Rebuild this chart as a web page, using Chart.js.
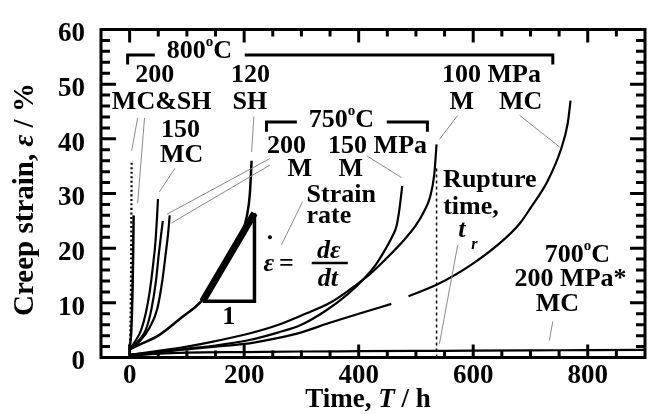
<!DOCTYPE html>
<html>
<head>
<meta charset="utf-8">
<script src="https://cdn.jsdelivr.net/npm/chart.js@4.4.1/dist/chart.umd.min.js"></script>
<style>
  html, body { margin: 0; padding: 0; background: #fff; }
</style>
</head>
<body>
<canvas id="creepChart" width="651" height="414"></canvas>
<script>
// tick labels
const xTickValues = [0, 200, 400, 600, 800];
const yTickValues = [0, 10, 20, 30, 40, 50, 60];

// 800 C, 200 MPa (MC & SH) - two specimens
const t800_200a = [0, 0.5, 1, 1.5, 2, 2.5, 3, 3.5];
const e800_200a = [1.5, 2.5, 4, 6, 10, 16, 25, 36];
const t800_200b = [0, 1, 2, 3, 4, 5, 6, 7];
const e800_200b = [1.5, 2.5, 3.5, 5, 8, 12, 18, 26];

// 800 C, 150 MPa MC
const t800_150 = [0, 10, 20, 28, 35, 41, 45, 48, 49.5];
const e800_150 = [1.5, 3, 5, 8, 12, 17, 21, 26, 29];

// 750 C, 200 MPa M - two specimens
const t750_200a = [0, 15, 28, 38, 46, 51, 55, 58];
const e750_200a = [1.5, 3, 5, 8.8, 14, 19, 22.5, 25];
const t750_200b = [0, 18, 35, 48, 57, 63, 67, 70];
const e750_200b = [1.5, 3, 5.5, 8.8, 14, 19, 22.5, 26];

// 800 C, 120 MPa SH
const t800_120 = [0, 20, 50, 87, 127, 150, 175, 195, 205, 210, 213];
const e800_120 = [1.5, 2.5, 4, 7, 10.5, 14, 18.5, 22.5, 26, 30, 36];

// 750 C, 150 MPa M
const t750_150 = [0, 50, 100, 150, 209, 260, 300, 343, 380, 410, 430, 445, 458, 466, 471, 474, 476];
const e750_150 = [0.5, 1, 1.6, 2.2, 3.2, 4.6, 6, 8.6, 11.5, 14.5, 17, 19.5, 22, 24, 27, 29.5, 31.4];

// 800 C, 100 MPa M
const t800_100M = [0, 50, 100, 150, 209, 260, 300, 350, 383, 420, 450, 480, 500, 515, 525, 532, 536];
const e800_100M = [0.5, 1.2, 2, 3, 4.4, 6, 7.7, 10, 12.3, 15.3, 18.3, 21.6, 24.2, 26.9, 29.5, 33.5, 39];

// 800 C, 100 MPa MC (record has a gap)
const t800_100MCa = [0, 50, 100, 150, 209, 260, 300, 348, 400, 457];
const e800_100MCa = [0.5, 1, 1.5, 2, 2.6, 3.6, 4.6, 6.3, 8, 9.8];
const t800_100MCb = [487, 534, 597, 656, 682, 701, 730, 753, 765, 770];
const e800_100MCb = [11.2, 13.2, 17, 21.8, 24.6, 27.5, 32.3, 38, 42.8, 47];

// 700 C, 200 MPa* MC
const t700_200 = [0, 50, 100, 200, 300, 400, 500, 600, 700, 800, 900];
const e700_200 = [0.3, 0.7, 0.9, 1.0, 1.1, 1.15, 1.2, 1.25, 1.3, 1.35, 1.4];

// rupture time marker of the 100 MPa M test
const tRupture = [536, 536];
const eRupture = [0, 34.6];

// strain-rate triangle
const tTriangle = [127.5, 218, 218];
const eTriangle = [10.3, 10.3, 26.4];
const tHypot = [127.5, 218];
const eHypot = [10.3, 26.4];

const fam = '"Liberation Serif", "Times New Roman", serif';
const B26 = `bold 26px ${fam}`;
const BI26 = `bold italic 26px ${fam}`;
const SUP = `bold 15px ${fam}`;
const SUB = `bold italic 16px ${fam}`;

function pts(ts, es) {
  return ts.map((t, i) => ({ x: t, y: es[i] }));
}

function curve(ts, es, extra) {
  return Object.assign({
    data: pts(ts, es),
    showLine: true,
    borderColor: "#000",
    borderWidth: 2.2,
    pointRadius: 0,
    cubicInterpolationMode: "monotone",
    fill: false
  }, extra || {});
}

// annotations (data coordinates: time h, strain %)
const labels = [
  { t: 122, e: 56.0, runs: [["800", B26], ["o", SUP, -9], ["C", B26]] },
  { t: 44, e: 51.7, runs: [["200", B26]] },
  { t: 56, e: 46.6, runs: [["MC&SH", B26]] },
  { t: 211, e: 51.7, runs: [["120", B26]] },
  { t: 210, e: 46.6, runs: [["SH", B26]] },
  { t: 89, e: 41.5, runs: [["150", B26]] },
  { t: 91, e: 36.9, runs: [["MC", B26]] },
  { t: 370, e: 43.4, runs: [["750", B26], ["o", SUP, -9], ["C", B26]] },
  { t: 274, e: 38.7, runs: [["200", B26]] },
  { t: 433, e: 38.7, runs: [["150 MPa", B26]] },
  { t: 297, e: 34.5, runs: [["M", B26]] },
  { t: 386, e: 34.5, runs: [["M", B26]] },
  { t: 309, e: 29.7, align: "left", runs: [["Strain", B26]] },
  { t: 309, e: 25.9, align: "left", runs: [["rate", B26]] },
  { t: 173, e: 7.3, runs: [["1", B26]] },
  { t: 629, e: 32.4, runs: [["Rupture", B26]] },
  { t: 596, e: 27.5, runs: [["time,", B26]] },
  { t: 580, e: 23.2, runs: [["t", BI26]] },
  { t: 602, e: 20.6, runs: [["r", SUB]] },
  { t: 632, e: 51.7, runs: [["100 MPa", B26]] },
  { t: 580, e: 46.7, runs: [["M", B26]] },
  { t: 683, e: 46.7, runs: [["MC", B26]] },
  { t: 782, e: 18.7, runs: [["700", B26], ["o", SUP, -9], ["C", B26]] },
  { t: 770, e: 14.3, runs: [["200 MPa*", B26]] },
  { t: 747, e: 9.7, runs: [["MC", B26]] }
];

const leaders = [
  [14, 43.8, 3.5, 37.8],
  [26, 43.8, 14, 28.2],
  [79, 34.6, 52, 30.3],
  [217, 44.1, 213, 37.6],
  [245, 36.4, 65, 26.2],
  [245, 35.2, 73, 24.6],
  [414, 36.9, 475, 32.9],
  [302, 28.5, 265, 20.6],
  [573, 44.3, 541, 39.9],
  [681, 44.3, 751, 38.5],
  [573, 20.6, 541, 2.5],
  [739, 6.6, 733, 3.1]
];

const brackets = [
  [[-3.5, 53.6], [-3.5, 55.35], [44, 55.35]],
  [[201, 55.35], [739, 55.35], [739, 53.6]],
  [[239, 41.3], [239, 43.1], [292, 43.1]],
  [[449, 43.1], [520, 43.1], [520, 41.3]]
];

function drawRuns(ctx, runs, x, y, align, baseline) {
  let w = 0;
  runs.forEach(r => { ctx.font = r[1]; w += ctx.measureText(r[0]).width; });
  let cx = align === "left" ? x : align === "right" ? x - w : x - w / 2;
  ctx.textAlign = "left";
  ctx.textBaseline = baseline || "middle";
  runs.forEach(r => {
    ctx.font = r[1];
    ctx.fillText(r[0], cx, y + (r[2] || 0));
    cx += ctx.measureText(r[0]).width;
  });
}

const decorPlugin = {
  id: "decor",
  afterDatasetsDraw(chart) {
    const ctx = chart.ctx;
    const X = v => chart.scales.x.getPixelForValue(v);
    const Y = v => chart.scales.y.getPixelForValue(v);
    ctx.save();
    ctx.strokeStyle = "#8a8a8a";
    ctx.lineWidth = 1;
    leaders.forEach(l => {
      ctx.beginPath();
      ctx.moveTo(X(l[0]), Y(l[1]));
      ctx.lineTo(X(l[2]), Y(l[3]));
      ctx.stroke();
    });
    ctx.strokeStyle = "#000";
    ctx.lineWidth = 3;
    brackets.forEach(b => {
      ctx.beginPath();
      b.forEach((p, i) => i ? ctx.lineTo(X(p[0]), Y(p[1])) : ctx.moveTo(X(p[0]), Y(p[1])));
      ctx.stroke();
    });
    ctx.fillStyle = "#000";
    labels.forEach(l => drawRuns(ctx, l.runs, X(l.t), Y(l.e), l.align || "center"));

    // strain rate formula
    drawRuns(ctx, [["ε", BI26]], X(243), Y(15.9), "center", "alphabetic");
    ctx.beginPath();
    ctx.arc(X(245), Y(22), 2, 0, Math.PI * 2);
    ctx.fill();
    drawRuns(ctx, [["=", B26]], X(274), Y(15.9), "center", "alphabetic");
    drawRuns(ctx, [["dε", BI26]], X(348), Y(18.2), "center", "alphabetic");
    drawRuns(ctx, [["dt", BI26]], X(346), Y(13.1), "center", "alphabetic");
    ctx.lineWidth = 2.5;
    ctx.beginPath();
    ctx.moveTo(X(318), Y(17.3));
    ctx.lineTo(X(381), Y(17.3));
    ctx.stroke();
    ctx.restore();
  },
  afterDraw(chart) {
    const ctx = chart.ctx;
    const a = chart.chartArea;
    const xs = chart.scales.x, ys = chart.scales.y;
    ctx.save();
    ctx.strokeStyle = "#000";
    ctx.lineWidth = 3;
    // inward ticks on all four sides
    ctx.beginPath();
    for (let v = 0; v <= 850; v += 50) {
      const px = xs.getPixelForValue(v);
      const len = v % 200 === 0 ? 13 : 7;
      ctx.moveTo(px, a.bottom); ctx.lineTo(px, a.bottom - len);
      ctx.moveTo(px, a.top); ctx.lineTo(px, a.top + len);
    }
    for (let v = 2; v < 60; v += 2) {
      const py = ys.getPixelForValue(v);
      const len = v % 10 === 0 ? 15 : 9;
      ctx.moveTo(a.left, py); ctx.lineTo(a.left + len, py);
      ctx.moveTo(a.right, py); ctx.lineTo(a.right - len, py);
    }
    ctx.stroke();
    ctx.strokeRect(a.left, a.top, a.right - a.left, a.bottom - a.top);

    // axis titles
    ctx.fillStyle = "#000";
    const B27 = `bold 27px ${fam}`, BI27 = `bold italic 27px ${fam}`;
    drawRuns(ctx, [["Time, ", B27], ["T", BI27], [" / h", B27]], (a.left + a.right) / 2 - 5, 400, "center");
    const B29 = `bold 29px ${fam}`, BI29 = `bold italic 29px ${fam}`;
    ctx.translate(26, (a.top + a.bottom) / 2 + 6);
    ctx.rotate(-Math.PI / 2);
    drawRuns(ctx, [["Creep strain, ", B29], ["ε", BI29], [" / %", B29]], 0, 0, "center");
    ctx.restore();
  }
};

const tickFont = { family: fam, size: 27, weight: "bold", lineHeight: 1 };

new Chart(document.getElementById("creepChart"), {
  type: "scatter",
  data: {
    datasets: [
      curve(t800_200a, e800_200a, { borderDash: [2, 2.5] }),
      curve(t800_200b, e800_200b, { borderWidth: 2.5 }),
      curve(t800_150, e800_150),
      curve(t750_200a, e750_200a),
      curve(t750_200b, e750_200b),
      curve(t800_120, e800_120, { borderWidth: 2.5 }),
      curve(t750_150, e750_150),
      curve(t800_100M, e800_100M),
      curve(t800_100MCa, e800_100MCa),
      curve(t800_100MCb, e800_100MCb),
      curve(t700_200, e700_200),
      curve(tRupture, eRupture, { borderWidth: 1.5, borderDash: [3, 3], cubicInterpolationMode: "default" }),
      curve(tTriangle, eTriangle, { borderWidth: 3.5, cubicInterpolationMode: "default" }),
      curve(tHypot, eHypot, { borderWidth: 7, cubicInterpolationMode: "default" })
    ]
  },
  options: {
    responsive: false,
    animation: false,
    devicePixelRatio: 1,
    layout: { padding: { left: 0, right: 6, top: 15.5, bottom: 0 } },
    plugins: {
      legend: { display: false },
      tooltip: { enabled: false }
    },
    scales: {
      x: {
        type: "linear",
        min: -50,
        max: 900,
        grid: { display: false, drawTicks: false },
        border: { display: false },
        ticks: { color: "#000", font: tickFont, padding: 5, maxRotation: 0 },
        afterBuildTicks: s => { s.ticks = xTickValues.map(v => ({ value: v })); },
        afterFit: s => { s.height = 56.5; }
      },
      y: {
        min: 0,
        max: 60,
        grid: { display: false, drawTicks: false },
        border: { display: false },
        ticks: { color: "#000", font: tickFont, padding: 16, labelOffset: 5 },
        afterBuildTicks: s => { s.ticks = yTickValues.map(v => ({ value: v })); },
        afterFit: s => { s.width = 101; }
      }
    }
  },
  plugins: [decorPlugin]
});
</script>
</body>
</html>
